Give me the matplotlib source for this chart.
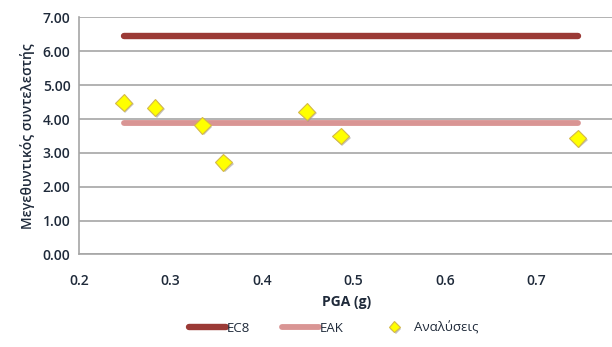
import matplotlib
matplotlib.use("Agg")
import matplotlib.pyplot as plt
import matplotlib.patheffects as pe
import numpy as np

# Peak ground acceleration of each analysis and resulting amplification factor
pga = [0.249, 0.283, 0.335, 0.358, 0.449, 0.486, 0.745]
amplification = [4.48, 4.34, 3.82, 2.72, 4.22, 3.50, 3.43]

# Code-prescribed values
ec8_value = 6.45
eak_value = 3.89

x_ticks = [0.2, 0.3, 0.4, 0.5, 0.6, 0.7]
y_ticks = [0, 1, 2, 3, 4, 5, 6, 7]

plt.rcParams['font.family'] = ['Open Sans', 'DejaVu Sans']
text_color = '#1F2A3A'
grid_color = '#A6A6A6'

fig = plt.figure(figsize=(6.12, 3.47), dpi=100)
ax = fig.add_axes([0.129, 0.2666, 0.873, 0.6830])

x_span = [min(pga), max(pga)]
ax.plot(x_span, [ec8_value, ec8_value], color='#9B3A36', lw=4.6,
        solid_capstyle='round', label='EC8', zorder=3)
ax.plot(x_span, [eak_value, eak_value], color='#D99594', lw=4.2,
        solid_capstyle='round', label='EAK', zorder=3)
ax.plot(pga, amplification, linestyle='none', marker='D', ms=8.5,
        mfc='#FFFF00', mec='#D4B84A', mew=0.8, label='Αναλύσεις', zorder=4,
        path_effects=[pe.SimplePatchShadow(offset=(1.2, -1.2), shadow_rgbFace='#8A8A8A', alpha=0.5),
                      pe.Normal()])

ax.set_xlim(0.2, 0.784)
ax.set_ylim(0, 7)
ax.set_xticks(x_ticks)
ax.set_yticks(y_ticks)
ax.set_xticklabels([f'{v:.1f}' for v in x_ticks])
ax.set_yticklabels([f'{v:.2f}' for v in y_ticks])
ax.tick_params(axis='both', length=0, labelsize=10, colors=text_color, pad=6)
for lab in ax.get_xticklabels() + ax.get_yticklabels():
    lab.set_fontweight('semibold')
ax.tick_params(axis='x', pad=14)

ax.yaxis.grid(True, color=grid_color, lw=1.2)
ax.set_axisbelow(True)
for side in ['top', 'right']:
    ax.spines[side].set_visible(False)
for side in ['left', 'bottom']:
    ax.spines[side].set_color(grid_color)
    ax.spines[side].set_linewidth(1.2)

ax.set_xlabel('PGA (g)', fontsize=10, fontweight='bold', color=text_color, labelpad=5)
ax.set_ylabel('Μεγεθυντικός συντελεστής', fontsize=10, fontweight='semibold',
              color=text_color, labelpad=6)

leg = fig.legend(loc='center', bbox_to_anchor=(0.545, 0.055), ncol=3, frameon=False,
                 fontsize=9.5, handlelength=2.8, handletextpad=0.1, columnspacing=2.4,
                 markerscale=0.65, labelcolor=text_color)

fig.savefig('out.png', dpi=100)
